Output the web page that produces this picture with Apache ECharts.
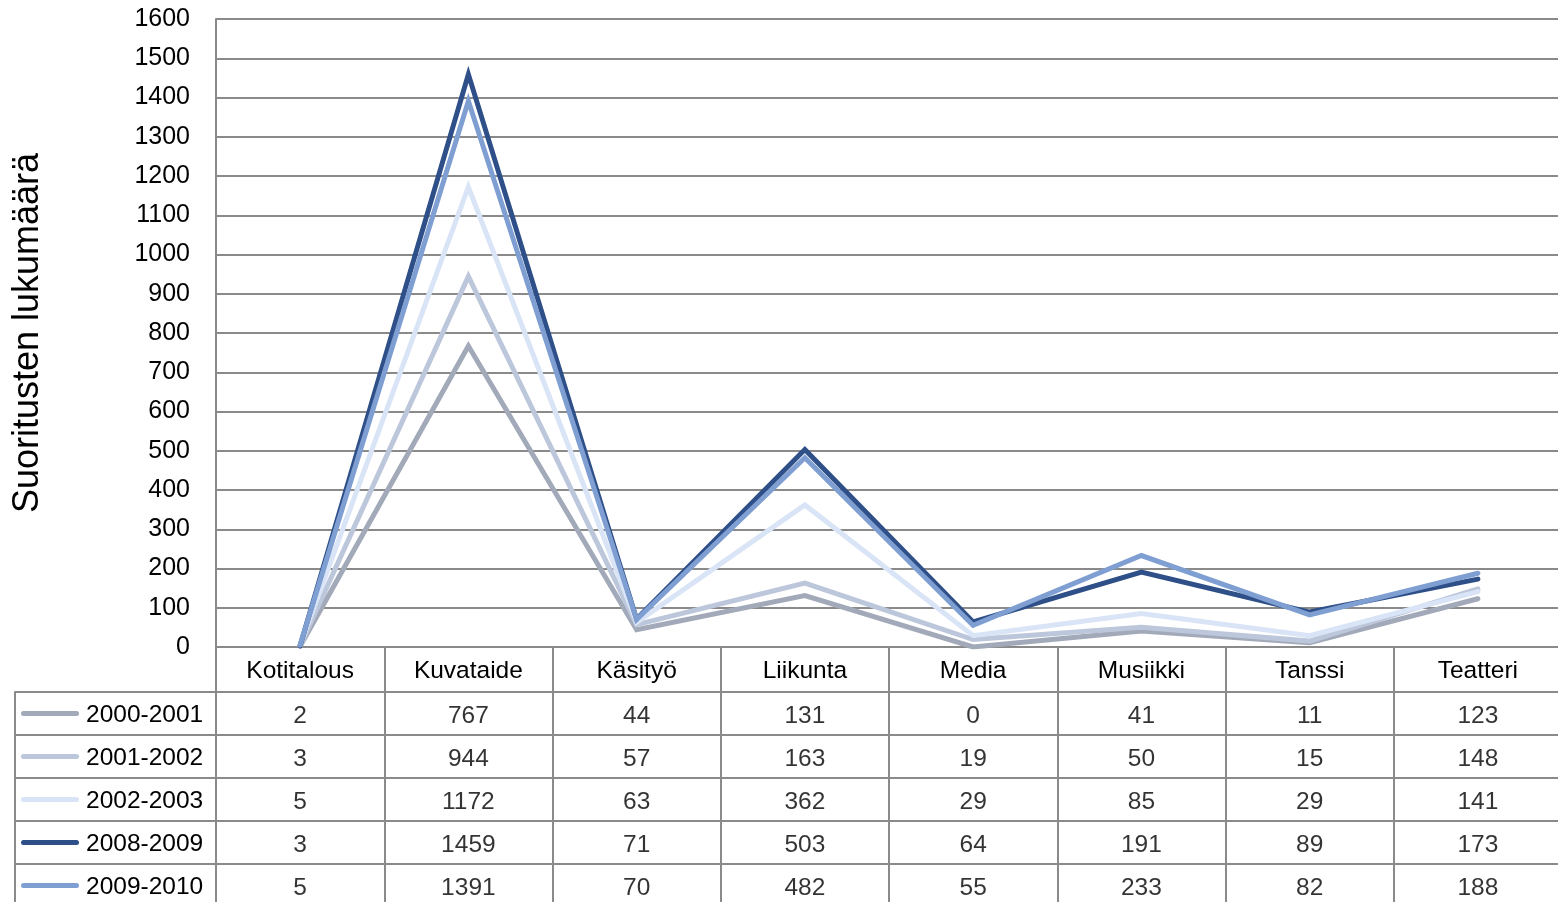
<!DOCTYPE html>
<html>
<head>
<meta charset="utf-8">
<script src="https://cdn.jsdelivr.net/npm/echarts@6/dist/echarts.min.js"></script>
<style>
html,body{margin:0;padding:0;background:#fff;}
#chart{width:1558px;height:902px;}
</style>
</head>
<body>
<div id="chart"></div>
<script>
const categories = ['Kotitalous','Kuvataide','Käsityö','Liikunta','Media','Musiikki','Tanssi','Teatteri'];
const seriesNames = ['2000-2001','2001-2002','2002-2003','2008-2009','2009-2010'];
const v2000_2001 = [2, 767, 44, 131, 0, 41, 11, 123];
const v2001_2002 = [3, 944, 57, 163, 19, 50, 15, 148];
const v2002_2003 = [5, 1172, 63, 362, 29, 85, 29, 141];
const v2008_2009 = [3, 1459, 71, 503, 64, 191, 89, 173];
const v2009_2010 = [5, 1391, 70, 482, 55, 233, 82, 188];
const yTicks = {min: 0, max: 1600, interval: 100};
const yTitle = 'Suoritusten lukumäärä';

const seriesValues = [v2000_2001, v2001_2002, v2002_2003, v2008_2009, v2009_2010];
const colors = ['#A2A9B9', '#BDC7DB', '#D9E4F6', '#2E4F87', '#7F9FD3'];
const FONT = "'Liberation Sans', Arial, sans-serif";
const GRID = '#8a8a8a';
const FS = 24.5;

const rich = {t: {fontSize: FS, fontFamily: FONT, color: '#000', padding: [4, 0, 0, 7]}};
colors.forEach((c, i) => {
  rich['k' + i] = {width: 58, height: 5, backgroundColor: c, borderRadius: 2.5, verticalAlign: 'middle'};
});

const lineSeries = seriesNames.map((name, i) => ({
  name: name,
  type: 'line',
  xAxisIndex: 0,
  yAxisIndex: 0,
  data: seriesValues[i],
  symbol: 'none',
  lineStyle: {width: 5, color: colors[i], cap: 'round', join: 'miter'},
  itemStyle: {color: colors[i]},
  z: 2 + i
}));

const cellData = [];
seriesNames.forEach((name, i) => {
  categories.forEach((cat, j) => {
    cellData.push([cat, name, seriesValues[i][j]]);
  });
});

const chart = echarts.init(document.getElementById('chart'), null, {renderer: 'canvas'});
chart.setOption({
  animation: false,
  backgroundColor: '#fff',
  textStyle: {fontFamily: FONT},
  grid: [
    {left: 216, right: -4, top: 19, bottom: 255, containLabel: false, outerBoundsMode: 'none'},
    {left: 216, right: -4, top: 692, height: 215, containLabel: false, outerBoundsMode: 'none'}
  ],
  xAxis: [
    {
      type: 'category', gridIndex: 0, data: categories, boundaryGap: true,
      axisLine: {show: true, lineStyle: {color: GRID, width: 2}},
      axisTick: {show: true, interval: 0, length: 45, lineStyle: {color: GRID, width: 2}},
      axisLabel: {interval: 0, fontSize: FS, fontFamily: FONT, color: '#000', margin: 12},
      splitLine: {show: false}
    },
    {
      type: 'category', gridIndex: 1, data: categories, boundaryGap: true,
      axisLine: {show: false}, axisTick: {show: false}, axisLabel: {show: false},
      splitLine: {show: true, interval: 0, lineStyle: {color: GRID, width: 2}}
    }
  ],
  yAxis: [
    {
      type: 'value', gridIndex: 0, min: yTicks.min, max: yTicks.max, interval: yTicks.interval,
      name: yTitle, nameLocation: 'middle', nameRotate: 90, nameGap: 170,
      nameTextStyle: {fontSize: 36, fontFamily: FONT, color: '#000'},
      axisLine: {show: true, lineStyle: {color: GRID, width: 2}},
      axisTick: {show: false},
      axisLabel: {fontSize: 25, fontFamily: FONT, color: '#000', margin: 26, formatter: v => String(v)},
      splitLine: {show: true, lineStyle: {color: GRID, width: 2}}
    },
    {
      type: 'category', gridIndex: 1, data: seriesNames, inverse: true, boundaryGap: true,
      axisLine: {show: true, lineStyle: {color: GRID, width: 2}},
      axisTick: {show: true, interval: 0, length: 201, lineStyle: {color: GRID, width: 2}},
      axisLabel: {
        interval: 0, align: 'left', margin: 195,
        formatter: (v, i) => '{k' + i + '|}{t|' + v + '}',
        rich: rich
      },
      splitLine: {show: true, interval: 0, lineStyle: {color: GRID, width: 2}}
    },
    {
      type: 'category', gridIndex: 1, data: seriesNames, inverse: true, position: 'left', offset: 201,
      axisLine: {show: true, lineStyle: {color: GRID, width: 2}},
      axisTick: {show: false}, axisLabel: {show: false}, splitLine: {show: false}
    }
  ],
  series: lineSeries.concat([{
    name: 'table',
    type: 'scatter',
    xAxisIndex: 1,
    yAxisIndex: 1,
    data: cellData,
    symbolSize: 1,
    itemStyle: {color: 'rgba(0,0,0,0)'},
    label: {
      show: true, position: 'inside', formatter: p => String(p.value[2]),
      fontSize: FS, fontFamily: FONT, color: '#000', offset: [0, 3]
    },
    silent: true,
    z: 10
  }])
});
</script>
</body>
</html>
